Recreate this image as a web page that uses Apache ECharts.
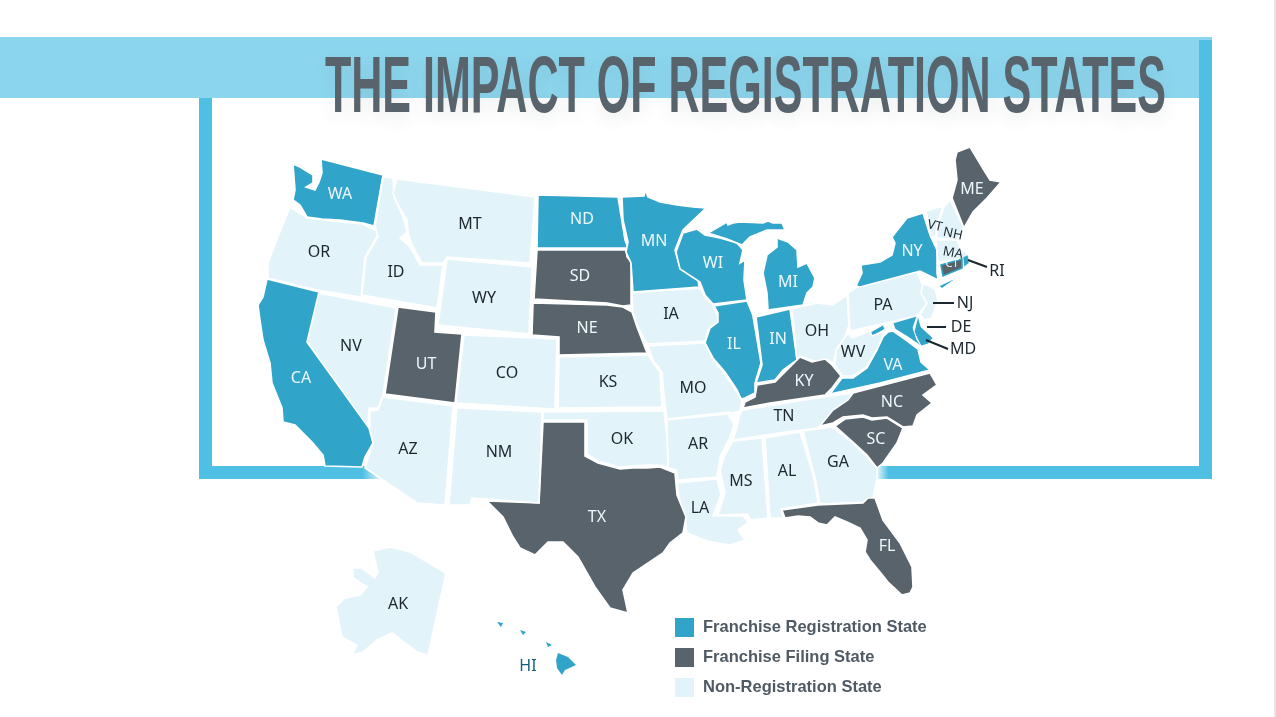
<!DOCTYPE html>
<html><head><meta charset="utf-8">
<style>html,body{margin:0;padding:0;background:#fff;overflow:hidden}#c{width:1276px;height:717px}</style>
<script src="https://cdn.jsdelivr.net/npm/echarts@6/dist/echarts.min.js"></script>
</head><body><div id="c"></div>
<script>
var titleText = 'THE IMPACT OF REGISTRATION STATES';
var legendNames = ['Franchise Registration State', 'Franchise Filing State', 'Non-Registration State'];
var registrationStates = ['WA','CA','ND','MN','WI','MI','IL','IN','NY','VA','MD','DE','RI','HI'];
var filingStates = ['UT','SD','NE','TX','KY','NC','SC','FL','ME','CT'];
var nonRegistrationStates = ['OR','ID','MT','WY','NV','AZ','NM','CO','KS','OK','IA','MO','AR','LA','MS','AL','GA','TN','OH','WV','PA','NJ','VT','NH','MA','AK'];
var groupColors = ['#31a4c9', '#59636c', '#e3f3fa'];

var labelPoints = {WA:[340,193],MT:[470,223],OR:[319,251],ID:[396,271],WY:[484,297],NV:[351,345],CA:[301,377],UT:[426,363],AZ:[408,448],NM:[499,451],CO:[507,372],ND:[582,218],SD:[580,275],NE:[587,327],KS:[608,381],OK:[622,438],TX:[597,516],MN:[654,240],IA:[671,313],MO:[693,387],AR:[698,443],LA:[700,507],WI:[713,262],IL:[734,343],MI:[788,281],IN:[778,338],OH:[817,330],KY:[804,380],TN:[784,415],MS:[741,480],AL:[787,470],GA:[838,461],FL:[887,545],SC:[876,438],NC:[892,401],VA:[893,364],WV:[853,351],PA:[883,304],NY:[912,250],VT:[935,225],NH:[953,233],MA:[953,252],CT:[952,263],ME:[972,188],AK:[398,603],HI:[528,665],RI:[997,270],NJ:[965,302],DE:[961,326],MD:[963,348]};
var leaderLines = [[[968,260],[987,267]],[[933,303],[954,303]],[[927,327],[946,327]],[[926,340],[948,349]]];

/* Map outlines (registered with echarts as the base map) */
var outlines = {
WA:[[[321,159],[383,175],[374,226],[363,223],[340,220],[322,219],[307,217],[300,205],[293,200],[295,190],[293,164],[300,167],[313,175],[313,183],[306,187],[315,190],[319,182],[322,173]]],
OR:[[[290,207],[307,218],[340,222],[363,224],[379,232],[375,240],[365,257],[361,297],[317,290],[268,278],[268,263],[278,237]]],
ID:[[[383,177],[393,178],[394,197],[403,217],[407,232],[400,238],[410,247],[420,265],[443,265],[437,308],[362,295],[366,257],[378,237],[375,226]]],
MT:[[[397,179],[535,197],[530,263],[447,257],[443,263],[422,263],[413,247],[408,233],[407,220],[397,203],[393,193]]],
WY:[[[447,259],[532,267],[529,334],[438,325]]],
ND:[[[538,195],[618,197],[625,240],[628,248],[537,248]]],
SD:[[[537,250],[626,250],[627,257],[631,262],[631,305],[623,306],[607,303],[534,299]]],
NE:[[[533,303],[607,305],[623,307],[632,312],[637,327],[647,353],[559,355],[559,337],[532,335]]],
MN:[[[622,197],[644,196],[645,190],[648,197],[660,202],[677,205],[693,207],[706,208],[683,230],[675,250],[680,268],[698,280],[699,287],[633,292],[631,263],[626,252],[628,242],[623,220]]],
WI:[[[683,233],[697,229],[705,235],[720,238],[737,243],[743,250],[740,263],[745,260],[744,280],[747,300],[713,304],[705,295],[700,282],[680,269],[676,252]]],
MI:[[[708,233],[727,222],[728,225],[733,223],[740,222],[763,223],[768,221],[773,223],[782,223],[785,230],[767,230],[750,237],[742,245],[727,239]],[[777,238],[788,242],[797,250],[798,267],[807,263],[815,278],[813,287],[807,293],[803,305],[768,310],[767,293],[763,273],[767,255],[777,247]]],
IA:[[[632,293],[700,288],[705,297],[713,305],[718,317],[717,323],[708,330],[705,341],[647,344],[638,327],[633,313]]],
IL:[[[714,306],[747,301],[752,313],[753,316],[761,363],[755,383],[755,393],[745,398],[741,399],[737,390],[725,372],[713,358],[705,343],[710,328],[718,322],[718,313]]],
IN:[[[756,317],[790,309],[797,360],[783,370],[775,380],[756,383],[762,365]]],
OH:[[[792,309],[817,303],[833,305],[847,295],[849,325],[845,337],[837,348],[833,363],[827,359],[817,362],[802,357],[797,360]]],
PA:[[[848,293],[857,287],[917,272],[921,282],[928,291],[926,305],[917,316],[850,331]]],
NY:[[[856,286],[862,273],[861,265],[880,262],[892,255],[895,243],[892,237],[907,218],[923,213],[930,235],[937,250],[937,273],[938,280],[920,271],[860,287]],[[938,286],[957,277],[959,277],[942,289]]],
VT:[[[926,211],[943,206],[938,222],[935,237],[931,237]]],
NH:[[[944,207],[950,200],[964,228],[957,240],[936,238],[939,222]]],
ME:[[[957,152],[970,147],[982,167],[990,180],[1001,182],[987,198],[973,212],[964,228],[952,198],[957,180],[955,160]]],
MA:[[[936,240],[957,240],[960,248],[968,255],[967,258],[938,262]]],
CT:[[[941,265],[962,259],[962,268],[943,276]]],
RI:[[[963,257],[968,255],[969,263],[964,267]]],
NJ:[[[923,283],[935,289],[938,300],[932,318],[925,320],[920,315],[927,303],[921,293]]],
DE:[[[918,316],[921,327],[933,338],[928,344],[921,346],[914,332]]],
MD:[[[893,323],[917,316],[913,328],[917,340],[921,346],[908,337],[895,329]],[[869,333],[883,325],[885,329],[873,336]]],
VA:[[[830,394],[842,378],[853,378],[867,368],[877,350],[883,337],[888,332],[893,331],[906,340],[918,349],[921,362],[930,370],[880,383]]],
WV:[[[836,350],[848,333],[852,338],[870,331],[872,336],[885,331],[877,349],[867,367],[853,376],[842,376],[835,365]]],
KY:[[[743,408],[745,402],[755,397],[757,385],[775,382],[785,372],[800,357],[812,362],[825,359],[832,365],[841,376],[832,388],[825,395],[770,403]]],
TN:[[[743,410],[830,396],[853,393],[848,401],[833,412],[818,428],[778,433],[733,440],[737,427],[740,414]]],
NC:[[[853,393],[930,373],[933,378],[937,385],[923,395],[932,403],[917,415],[913,426],[903,427],[887,417],[872,418],[863,415],[843,417],[833,423],[820,426],[833,410],[848,400]]],
SC:[[[835,426],[845,419],[863,417],[872,420],[887,418],[903,428],[897,443],[883,463],[877,468],[867,455],[853,442]]],
GA:[[[803,431],[832,427],[853,443],[867,457],[877,468],[877,480],[873,497],[866,502],[820,504],[815,478]]],
FL:[[[782,510],[818,505],[863,503],[868,498],[875,498],[883,520],[900,543],[912,567],[913,587],[910,593],[902,595],[888,582],[880,572],[870,560],[865,552],[867,540],[860,528],[847,522],[835,517],[827,525],[818,523],[810,517],[798,516],[785,518]]],
AL:[[[765,438],[800,432],[814,478],[818,503],[781,509],[783,518],[770,518]]],
MS:[[[733,441],[762,438],[768,518],[751,520],[747,514],[718,515],[725,493],[720,470],[725,455]]],
AR:[[[667,420],[728,414],[734,424],[730,437],[720,457],[717,477],[678,480],[676,470],[668,468]]],
LA:[[[677,483],[717,479],[721,495],[713,516],[743,516],[748,522],[738,530],[745,540],[730,545],[707,541],[687,533],[685,517],[680,502]]],
TX:[[[543,422],[585,422],[585,456],[598,463],[620,469],[633,468],[647,468],[660,467],[675,473],[677,495],[686,517],[683,533],[670,543],[663,553],[633,573],[623,590],[628,613],[610,608],[595,587],[578,557],[563,542],[548,542],[535,555],[520,548],[513,537],[503,517],[487,501],[539,503]]],
OK:[[[543,412],[664,411],[667,437],[668,467],[660,465],[647,465],[633,466],[620,467],[598,461],[587,454],[587,420],[543,420]]],
NM:[[[457,408],[542,412],[539,503],[485,499],[472,498],[470,505],[449,505]]],
AZ:[[[383,397],[453,406],[445,505],[417,503],[383,480],[365,468],[373,443],[370,430],[370,411],[378,410]]],
NV:[[[318,293],[396,308],[383,395],[378,408],[369,408],[368,428],[307,342]]],
CA:[[[267,279],[319,292],[307,342],[369,428],[373,443],[365,457],[362,467],[325,466],[323,455],[312,442],[295,425],[283,422],[282,408],[272,383],[270,363],[263,340],[260,320],[258,305],[263,297]]],
UT:[[[398,307],[436,312],[435,332],[462,334],[455,403],[385,394]]],
CO:[[[464,335],[557,339],[555,409],[456,403]]],
KS:[[[559,357],[648,355],[653,363],[660,372],[662,407],[558,408]]],
MO:[[[648,346],[705,343],[712,358],[724,373],[736,391],[742,400],[740,411],[732,413],[729,412],[667,419],[664,395],[662,372],[653,360]]],
AK:[[[373,551],[390,547],[410,552],[446,573],[428,655],[417,652],[392,633],[377,640],[363,652],[352,655],[357,645],[342,637],[336,607],[345,598],[360,595],[367,587],[353,578],[353,568],[362,568],[375,578],[378,572]]],
HI:[[[558,653],[568,657],[576,665],[565,670],[562,675],[557,668],[556,660]],[[497,622],[503,623],[501,627]],[[520,630],[526,632],[523,635]],[[546,642],[552,645],[548,647]]]
};

var features = Object.keys(outlines).map(function (n) {
  return {type:'Feature',properties:{name:n},geometry:{type:'MultiPolygon',coordinates:outlines[n].map(function(r){return [r.concat([r[0]])];})}};
});
echarts.registerMap('us', {type:'FeatureCollection',features:features});

var groups = [registrationStates, filingStates, nonRegistrationStates];
var thinBorder = {HI:0, RI:0.5, DE:0.8, MD:0.8};
var regions = [];
groups.forEach(function (g, i) {
  g.forEach(function (n) {
    var it = {name:n, itemStyle:{areaColor:groupColors[i]}};
    if (n === 'CT') it.itemStyle.borderColor = groupColors[0];
    if (thinBorder[n] !== undefined) it.itemStyle.borderWidth = thinBorder[n];
    regions.push(it);
  });
});
var rotations = {VT:-12, NH:-12, MA:-10};
var outside = {RI:1, NJ:1, DE:1, MD:1};
var smallLabels = {VT:13, NH:13, MA:13, CT:11};
function labelColor(n, i) {
  if (outside[n]) return '#1d2730';
  if (n === 'HI') return '#12607a';
  return i === 2 ? '#1d2730' : '#eef8fc';
}
var labelSeries = groups.map(function (g, i) {
  return {
    type:'scatter', name:legendNames[i], coordinateSystem:'geo', geoIndex:0, symbolSize:0, silent:true, z:5,
    itemStyle:{color:groupColors[i], opacity:1},
    label:{show:true, position:'inside', offset:[0,1], formatter:'{b}', fontFamily:'Noto Sans', fontSize:16},
    data:g.map(function (n) {
      return {name:n, value:labelPoints[n], label:{color:labelColor(n,i), rotate:rotations[n]||0, fontSize:smallLabels[n]||16}};
    })
  };
});
var leaderSeries = {
  type:'lines', coordinateSystem:'geo', geoIndex:0, polyline:true, silent:true, z:4,
  lineStyle:{color:'#1d2730', width:2, opacity:1}, data:leaderLines.map(function(c){return {coords:c};})
};

var frame = '#4fc0e3';
function bar(x,y,w,h,fill,z){return {type:'rect',z:z,silent:true,shape:{x:x,y:y,width:w,height:h},style:{fill:fill}};}
function fade(dir,stop){
  return {type:'linear',x:0,y:0,x2:1,y2:0,colorStops:dir>0?[{offset:0,color:frame},{offset:stop,color:frame},{offset:1,color:'rgba(79,192,227,0)'}]:[{offset:0,color:'rgba(79,192,227,0)'},{offset:stop,color:frame},{offset:1,color:frame}]};
}
var chart = echarts.init(document.getElementById('c'), null, {renderer:'canvas'});
chart.setOption({
  animation:false,
  backgroundColor:'#ffffff',
  graphic:{elements:[
    bar(0,37,1212,61,'#8bd6ee',-1),
    bar(199,98,13,381,frame,-1),
    bar(1199,40,13,439,frame,-1),
    bar(199,466,186,13,fade(1,0.88),-1),
    bar(875,466,337,13,fade(-1,0.04),-1),
    bar(1274,0,2,717,'#e4e6e8',-1),
    {type:'text',z:20,silent:true,x:325,y:130,scaleX:0.538,
      style:{text:titleText,fill:'#59636c',font:'bold 80px "Liberation Sans Narrow","Liberation Sans"',textAlign:'left',textVerticalAlign:'bottom',
        textShadowColor:'rgba(60,70,80,0.12)',textShadowBlur:18,textShadowOffsetY:5}}
  ]},
  legend:{left:675,top:618,orient:'vertical',icon:'rect',itemWidth:19,itemHeight:19,itemGap:11,selectedMode:false,padding:0,
    data:legendNames,
    textStyle:{fontFamily:'Liberation Sans',fontWeight:'bold',fontSize:16.5,color:'#4f5a64',padding:[4,0,0,4]}},
  geo:{map:'us',silent:true,roam:false,left:0,top:0,width:1276,height:717,aspectScale:1,
    projection:{project:function(p){return [p[0],p[1]];},unproject:function(p){return [p[0],p[1]];}},
    boundingCoords:[[0,0],[1276,717]],
    itemStyle:{areaColor:'#e3f3fa',borderColor:'#ffffff',borderWidth:1.6},
    label:{show:false},emphasis:{disabled:true},select:{disabled:true},
    regions:regions,z:2},
  series:labelSeries.concat([leaderSeries])
});
</script></body></html>
